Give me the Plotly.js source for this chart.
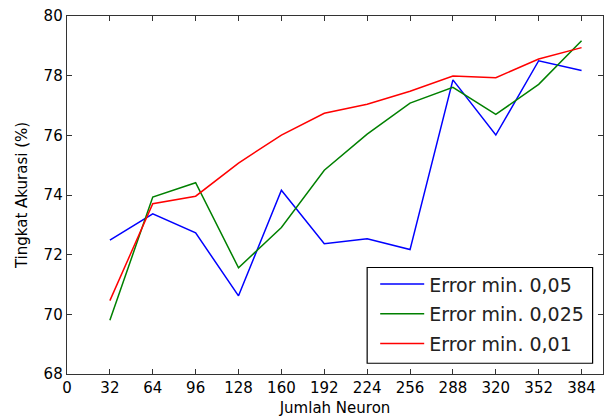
<!DOCTYPE html>
<html><head><meta charset="utf-8">
<script src="https://cdn.plot.ly/plotly-3.0.1.min.js"></script>
<style>html,body{margin:0;padding:0;background:#fff;}#chart{width:606px;height:419px;}</style>
</head><body><div id="chart"></div>
<script>
const neurons = [32, 64, 96, 128, 160, 192, 224, 256, 288, 320, 352, 384];
const err005 = [72.49, 73.37, 72.73, 70.62, 74.16, 72.37, 72.53, 72.17, 77.86, 76.01, 78.50, 78.17];
const err0025 = [69.80, 73.93, 74.41, 71.56, 72.91, 74.83, 76.04, 77.08, 77.61, 76.70, 77.71, 79.17];
const err001 = [70.46, 73.71, 73.96, 75.07, 76.01, 76.74, 77.04, 77.48, 77.99, 77.93, 78.56, 78.94];
const seriesNames = ["Error min. 0,05", "Error min. 0,025", "Error min. 0,01"];
const xTicks = [0, 32, 64, 96, 128, 160, 192, 224, 256, 288, 320, 352, 384];
const yTicks = [68, 70, 72, 74, 76, 78, 80];

const colors = ["#0000ff", "#008000", "#ff0000"];
const data = [err005, err0025, err001].map((ys, i) => ({
  x: neurons, y: ys, type: "scatter", mode: "lines", name: seriesNames[i],
  legendgroup: "g" + i,
  line: {color: colors[i], width: 1.5}
}));

const axisCommon = {
  showgrid: false, zeroline: false, showline: true, linecolor: "#333", linewidth: 1.3,
  mirror: "allticks", ticks: "inside", ticklen: 5, tickwidth: 1, tickcolor: "#333",
  tickfont: {family: "DejaVu Sans", size: 15, color: "#000"}
};

const layout = {
  width: 606, height: 419,
  margin: {l: 67, r: 3, t: 16, b: 45},
  paper_bgcolor: "#fff", plot_bgcolor: "#fff",
  font: {family: "DejaVu Sans", color: "#000"},
  xaxis: Object.assign({}, axisCommon, {
    range: [0, 400], tickmode: "array", tickvals: xTicks, ticktext: xTicks.map(String),
    title: {text: "Jumlah Neuron", font: {size: 15}, standoff: 6}
  }),
  yaxis: Object.assign({}, axisCommon, {
    range: [68, 80], tickmode: "array", tickvals: yTicks, ticktext: yTicks.map(String),
    title: {text: "Tingkat Akurasi (%)", font: {size: 15}, standoff: 12}
  }),
  shapes: [{
    type: "rect", xref: "paper", yref: "paper", layer: "above",
    x0: 0.56, x1: 0.9806, y0: 0.03, y1: 0.2975,
    line: {color: "#000", width: 1.2}, fillcolor: "#fff"
  }],
  legend: {
    x: 0.575, y: 0.03, xanchor: "left", yanchor: "bottom",
    borderwidth: 0, bgcolor: "rgba(0,0,0,0)",
    font: {family: "DejaVu Sans", size: 19, color: "#222"},
    tracegroupgap: 2, itemwidth: 44, traceorder: "grouped"
  },
  showlegend: true
};

Plotly.newPlot("chart", data, layout, {staticPlot: true, displayModeBar: false});
</script></body></html>
